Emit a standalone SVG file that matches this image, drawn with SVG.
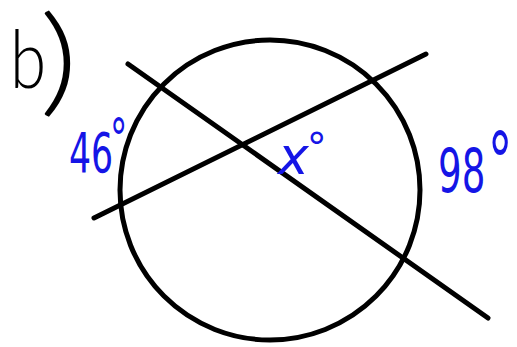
<svg xmlns="http://www.w3.org/2000/svg" width="517" height="347" viewBox="0 0 517 347">
<style>
.ln{stroke:#000;stroke-width:5;stroke-linecap:round;fill:none}
.lbl{fill:#1515e6;font-family:"DejaVu Sans","Liberation Sans",sans-serif}
.part{fill:#000;font-family:Lato,"Liberation Sans",sans-serif;font-weight:300}
</style>
<rect width="517" height="347" fill="#fff"/>
<g id="part-label">
<text class="part" x="0" y="0" font-size="80" transform="translate(10,88) scale(0.82,1)">b</text>
<text class="part" x="0" y="0" font-size="118" transform="translate(39,101) scale(1.3,1)">)</text>
</g>
<g id="circle"><circle class="ln" cx="270" cy="190" r="150"/></g>
<g id="connectors">
<line class="ln" x1="128" y1="64" x2="488" y2="318"/>
<line class="ln" x1="94" y1="218" x2="426" y2="54"/>
</g>
<g id="label-46"><text class="lbl" x="0" y="0" font-size="56" transform="translate(69,172) scale(0.62,1)">46<tspan dx="-5" dy="-14">°</tspan></text></g>
<g id="label-x"><text class="lbl" x="278" y="174" font-size="52" font-style="italic" font-family="Liberation Serif,serif">x<tspan dx="-2" dy="-12" font-style="normal" font-family="DejaVu Sans,sans-serif" font-size="40">°</tspan></text></g>
<g id="label-98"><text class="lbl" x="0" y="0" font-size="60" transform="translate(438,192) scale(0.62,1)">98<tspan dx="4" dy="-2" font-size="80">°</tspan></text></g>
</svg>
